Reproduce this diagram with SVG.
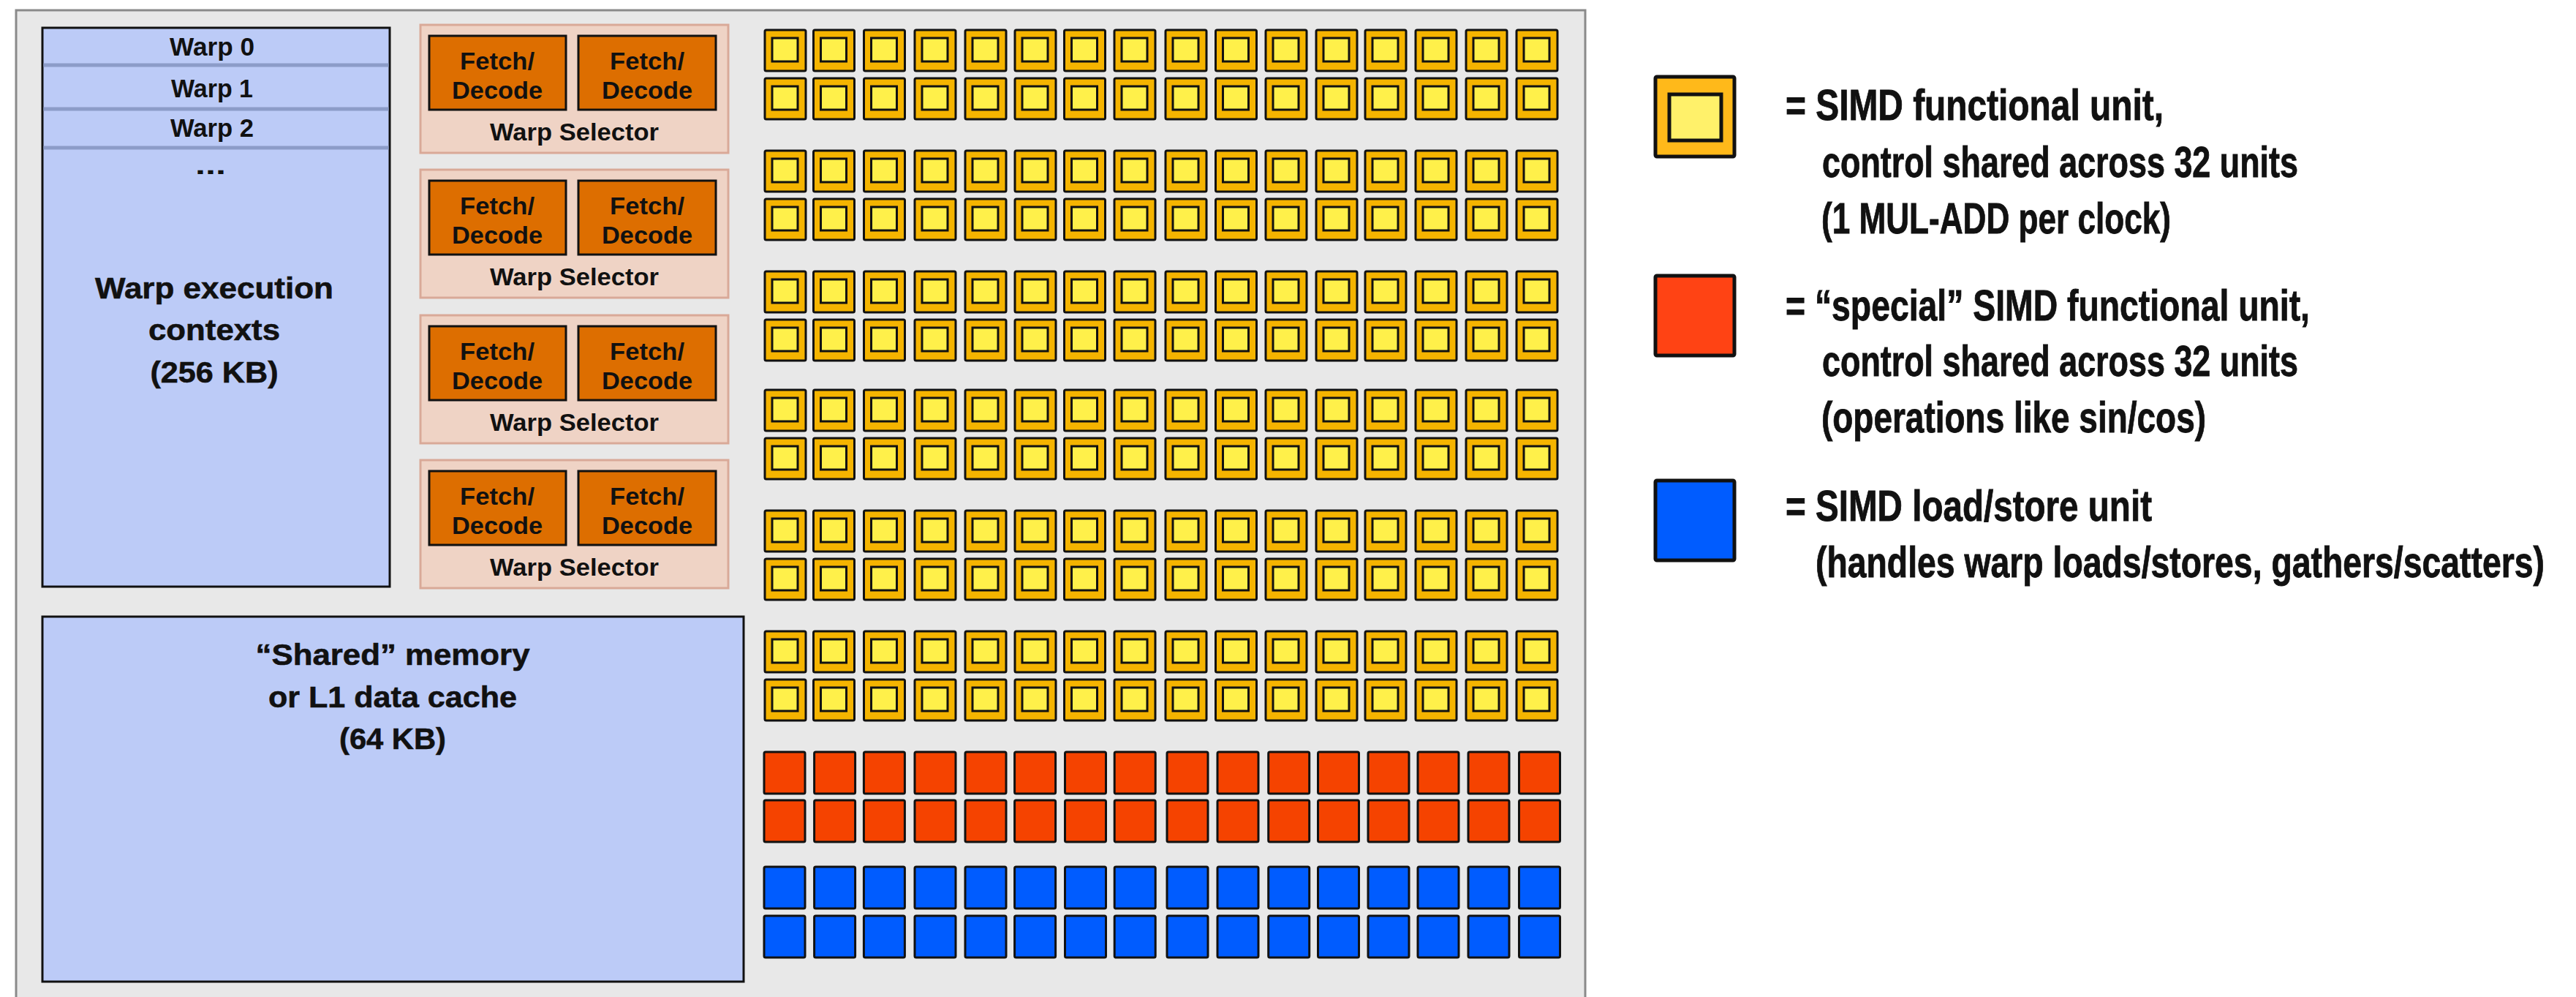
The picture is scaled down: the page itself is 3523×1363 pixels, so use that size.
<svg xmlns="http://www.w3.org/2000/svg" xmlns:xlink="http://www.w3.org/1999/xlink" width="3523" height="1363" viewBox="0 0 3523 1363">
<style>
text{font-family:"Liberation Sans",Arial,sans-serif;font-weight:bold;fill:#111}
.c{text-anchor:middle}
.frame{fill:#e8e8e8;stroke:#8a8a8a;stroke-width:3}
.mem{fill:#bccbf7;stroke:#111;stroke-width:3}
.sep{stroke:#8c9cc8;stroke-width:5}
.panel{fill:#efd3c5;stroke:#d9a998;stroke-width:3}
.fd{fill:#dd6e00;stroke:#111;stroke-width:3}
.yo{fill:#f5b400;stroke:#111;stroke-width:3}
.yi{fill:#fff04a;stroke:#111;stroke-width:3}
.ro{fill:#f54300;stroke:#111;stroke-width:3}
.bo{fill:#005cff;stroke:#111;stroke-width:3}
.t1{font-size:35px}
.t2{font-size:41px;stroke:#111;stroke-width:0.6}
.t3{font-size:34px}
.t4{font-size:40px;stroke:#111;stroke-width:0.6}
</style>
<defs>
<g id="yc"><rect class="yo" x="0" y="0" width="56" height="56" rx="2"/><rect class="yi" x="10" y="11" width="35" height="32"/></g>
<rect id="rc" class="ro" x="0" y="0" width="56" height="57" rx="2"/>
<rect id="bc" class="bo" x="0" y="0" width="56" height="57" rx="2"/>
<g id="yrow">
<use xlink:href="#yc" x="0"/><use xlink:href="#yc" x="66.5"/><use xlink:href="#yc" x="135.5"/><use xlink:href="#yc" x="205"/>
<use xlink:href="#yc" x="274"/><use xlink:href="#yc" x="342"/><use xlink:href="#yc" x="409.5"/><use xlink:href="#yc" x="478"/>
<use xlink:href="#yc" x="548"/><use xlink:href="#yc" x="616.5"/><use xlink:href="#yc" x="685"/><use xlink:href="#yc" x="754"/>
<use xlink:href="#yc" x="821"/><use xlink:href="#yc" x="890"/><use xlink:href="#yc" x="959"/><use xlink:href="#yc" x="1028"/>
</g>
<g id="rrow">
<use xlink:href="#rc" x="0"/><use xlink:href="#rc" x="68.6"/><use xlink:href="#rc" x="136.4"/><use xlink:href="#rc" x="206"/>
<use xlink:href="#rc" x="275"/><use xlink:href="#rc" x="342.6"/><use xlink:href="#rc" x="411.5"/><use xlink:href="#rc" x="479.2"/>
<use xlink:href="#rc" x="551"/><use xlink:href="#rc" x="620"/><use xlink:href="#rc" x="689.7"/><use xlink:href="#rc" x="757.5"/>
<use xlink:href="#rc" x="826"/><use xlink:href="#rc" x="894"/><use xlink:href="#rc" x="963"/><use xlink:href="#rc" x="1032.5"/>
</g>
<g id="brow">
<use xlink:href="#bc" x="0"/><use xlink:href="#bc" x="68.6"/><use xlink:href="#bc" x="136.4"/><use xlink:href="#bc" x="206"/>
<use xlink:href="#bc" x="275"/><use xlink:href="#bc" x="342.6"/><use xlink:href="#bc" x="411.5"/><use xlink:href="#bc" x="479.2"/>
<use xlink:href="#bc" x="551"/><use xlink:href="#bc" x="620"/><use xlink:href="#bc" x="689.7"/><use xlink:href="#bc" x="757.5"/>
<use xlink:href="#bc" x="826"/><use xlink:href="#bc" x="894"/><use xlink:href="#bc" x="963"/><use xlink:href="#bc" x="1032.5"/>
</g>
<g id="panel">
<rect class="panel" x="0" y="0" width="421" height="175"/>
<rect class="fd" x="12" y="15" width="187" height="101"/>
<rect class="fd" x="216" y="15" width="188" height="101"/>
<text class="c t3" x="105" y="61" textLength="102" lengthAdjust="spacingAndGlyphs">Fetch/</text>
<text class="c t3" x="105" y="101" textLength="124" lengthAdjust="spacingAndGlyphs">Decode</text>
<text class="c t3" x="310" y="61" textLength="102" lengthAdjust="spacingAndGlyphs">Fetch/</text>
<text class="c t3" x="310" y="101" textLength="124" lengthAdjust="spacingAndGlyphs">Decode</text>
<text class="c t3" x="210.5" y="158" textLength="231" lengthAdjust="spacingAndGlyphs">Warp Selector</text>
</g>
</defs>
<rect x="0" y="0" width="3523" height="1363" fill="#ffffff"/>
<g id="sm-frame"><rect class="frame" x="22" y="14" width="2146" height="1370"/></g>

<g id="warp-contexts">
<rect class="mem" x="58" y="38" width="475" height="764"/>
<line class="sep" x1="59.5" y1="89" x2="531.5" y2="89"/>
<line class="sep" x1="59.5" y1="149" x2="531.5" y2="149"/>
<line class="sep" x1="59.5" y1="202" x2="531.5" y2="202"/>
<text class="c t1" x="290" y="76" textLength="116" lengthAdjust="spacingAndGlyphs">Warp 0</text>
<text class="c t1" x="290" y="133" textLength="112" lengthAdjust="spacingAndGlyphs">Warp 1</text>
<text class="c t1" x="290" y="187" textLength="114" lengthAdjust="spacingAndGlyphs">Warp 2</text>
<text class="c t1" x="288" y="238" textLength="42" lengthAdjust="spacingAndGlyphs">...</text>
<text class="c t2" x="293" y="408" textLength="326" lengthAdjust="spacingAndGlyphs">Warp execution</text>
<text class="c t2" x="293" y="465" textLength="180" lengthAdjust="spacingAndGlyphs">contexts</text>
<text class="c t2" x="293" y="523" textLength="175" lengthAdjust="spacingAndGlyphs">(256 KB)</text>
</g>

<g id="warp-selector-1"><use xlink:href="#panel" x="575" y="34"/></g>
<g id="warp-selector-2"><use xlink:href="#panel" x="575" y="232"/></g>
<g id="warp-selector-3"><use xlink:href="#panel" x="575" y="431"/></g>
<g id="warp-selector-4"><use xlink:href="#panel" x="575" y="629"/></g>

<g id="shared-memory">
<rect class="mem" x="58" y="843" width="959" height="499"/>
<text class="c t2" x="537" y="909" textLength="375" lengthAdjust="spacingAndGlyphs">“Shared” memory</text>
<text class="c t2" x="537" y="967" textLength="340" lengthAdjust="spacingAndGlyphs">or L1 data cache</text>
<text class="c t2" x="537" y="1024" textLength="146" lengthAdjust="spacingAndGlyphs">(64 KB)</text>
</g>

<g id="simd-units">
<use xlink:href="#yrow" x="1046" y="41"/><use xlink:href="#yrow" x="1046" y="107"/>
<use xlink:href="#yrow" x="1046" y="206"/><use xlink:href="#yrow" x="1046" y="272"/>
<use xlink:href="#yrow" x="1046" y="371"/><use xlink:href="#yrow" x="1046" y="437"/>
<use xlink:href="#yrow" x="1046" y="533"/><use xlink:href="#yrow" x="1046" y="599"/>
<use xlink:href="#yrow" x="1046" y="698"/><use xlink:href="#yrow" x="1046" y="764"/>
<use xlink:href="#yrow" x="1046" y="863"/><use xlink:href="#yrow" x="1046" y="929"/>
</g>
<g id="special-units">
<use xlink:href="#rrow" x="1045" y="1028"/><use xlink:href="#rrow" x="1045" y="1094"/>
</g>
<g id="load-store-units">
<use xlink:href="#brow" x="1045" y="1185"/><use xlink:href="#brow" x="1045" y="1252"/>
</g>

<g id="connectors"/>

<g id="legend-simd">
<rect x="2264" y="105" width="108" height="109" rx="2" fill="#ffb91a" stroke="#111" stroke-width="5"/>
<rect x="2283" y="129" width="71" height="63" fill="#fff16a" stroke="#111" stroke-width="5"/>
<text class="t4" transform="translate(2442 164) scale(1 1.47)" textLength="517" lengthAdjust="spacingAndGlyphs">= SIMD functional unit,</text>
<text class="t4" transform="translate(2492 242) scale(1 1.47)" textLength="651" lengthAdjust="spacingAndGlyphs">control shared across 32 units</text>
<text class="t4" transform="translate(2491 319) scale(1 1.47)" textLength="478" lengthAdjust="spacingAndGlyphs">(1 MUL-ADD per clock)</text>
</g>
<g id="legend-special">
<rect x="2264" y="377" width="108" height="109" rx="2" fill="#ff4314" stroke="#111" stroke-width="5"/>
<text class="t4" transform="translate(2442 438) scale(1 1.47)" textLength="717" lengthAdjust="spacingAndGlyphs">= “special” SIMD functional unit,</text>
<text class="t4" transform="translate(2492 514) scale(1 1.47)" textLength="651" lengthAdjust="spacingAndGlyphs">control shared across 32 units</text>
<text class="t4" transform="translate(2491 591) scale(1 1.47)" textLength="526" lengthAdjust="spacingAndGlyphs">(operations like sin/cos)</text>
</g>
<g id="legend-load-store">
<rect x="2264" y="657" width="108" height="109" rx="2" fill="#005cff" stroke="#111" stroke-width="5"/>
<text class="t4" transform="translate(2442 712) scale(1 1.47)" textLength="501" lengthAdjust="spacingAndGlyphs">= SIMD load/store unit</text>
<text class="t4" transform="translate(2483 789) scale(1 1.47)" textLength="997" lengthAdjust="spacingAndGlyphs">(handles warp loads/stores, gathers/scatters)</text>
</g>
</svg>
